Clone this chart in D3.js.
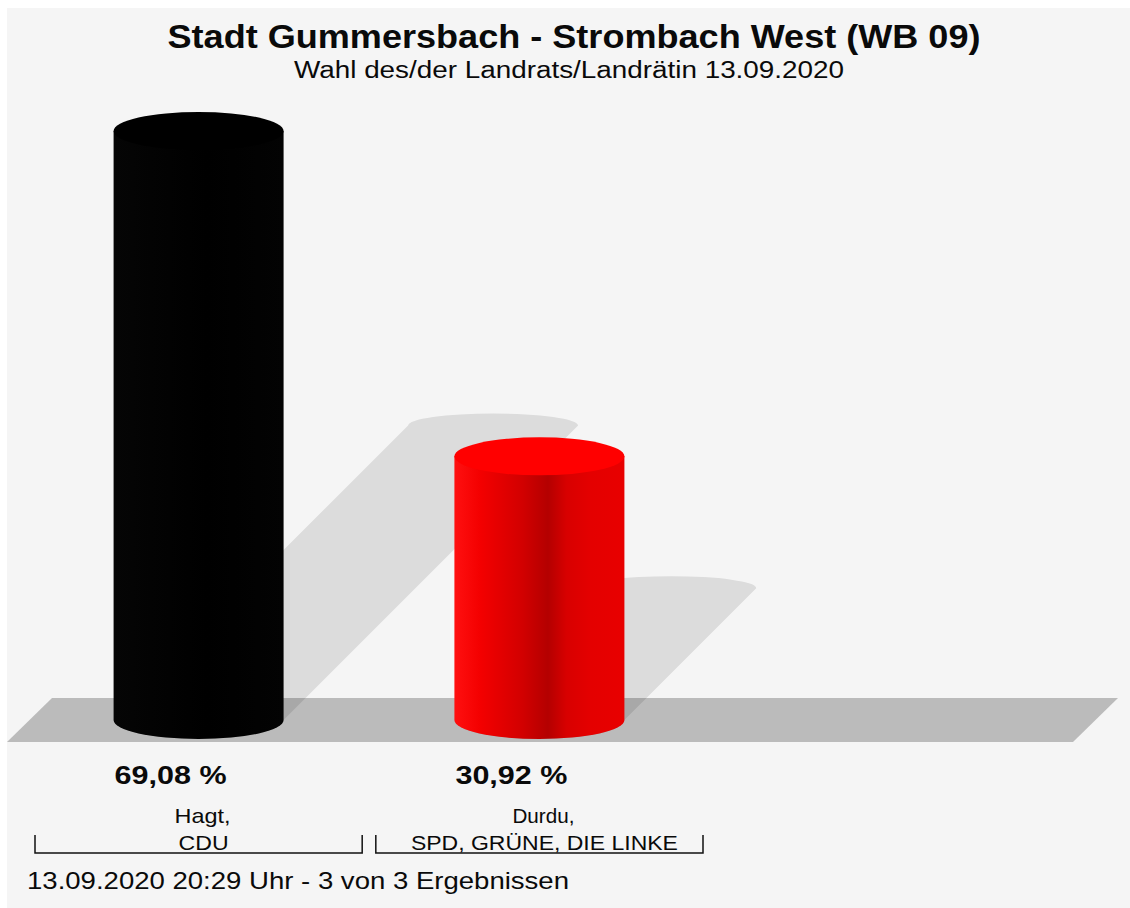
<!DOCTYPE html>
<html>
<head>
<meta charset="utf-8">
<script src="https://cdnjs.cloudflare.com/ajax/libs/d3/7.8.5/d3.min.js"></script>
<style>
  body { margin: 0; background: #ffffff; }
  text { font-family: "Liberation Sans", Arial, Helvetica, sans-serif; fill: #0a0a0a; }
</style>
</head>
<body>
<div id="chart"></div>
<script>
// values
var names   = ["Hagt,", "Durdu,"]
var parties = ["CDU", "SPD, GRÜNE, DIE LINKE"]
var shares  = [69.08, 30.92]
var colors  = ["black", "red"]

var title    = "Stadt Gummersbach - Strombach West (WB 09)"
var subtitle = "Wahl des/der Landrats/Landrätin 13.09.2020"
var footer   = "13.09.2020 20:29 Uhr - 3 von 3 Ergebnissen"

var width = 1130, height = 908
var baseY = 720, topY = 131
var rx = 85, ry = 19

var data = shares.map(function(v, i) {
  return { name: names[i], party: parties[i], value: v, color: colors[i] }
})

var de = d3.formatLocale({ decimal: ",", thousands: ".", grouping: [3], currency: ["", " €"] })
var fmt = de.format(".2f")

var svg = d3.select("#chart")
  .append("svg")
    .attr("width", width)
    .attr("height", height)

var defs = svg.append("defs")

var gradRed = defs.append("linearGradient").attr("id", "side-red")
  .attr("x1", "0%").attr("x2", "100%").attr("y1", "0%").attr("y2", "0%")
gradRed.selectAll("stop")
  .data([[0, "#ff1010"], [0.15, "#f40000"], [0.4, "#d20000"], [0.55, "#b40000"], [0.66, "#d80000"], [0.8, "#e40000"], [1, "#e80000"]])
  .enter().append("stop")
    .attr("offset", function(d) { return d[0] })
    .attr("stop-color", function(d) { return d[1] })

var gradBlack = defs.append("linearGradient").attr("id", "side-black")
  .attr("x1", "0%").attr("x2", "100%").attr("y1", "0%").attr("y2", "0%")
gradBlack.selectAll("stop")
  .data([[0, "#050505"], [0.55, "#000000"], [1, "#030303"]])
  .enter().append("stop")
    .attr("offset", function(d) { return d[0] })
    .attr("stop-color", function(d) { return d[1] })

// background panel
svg.append("rect")
  .attr("x", 7).attr("y", 8)
  .attr("width", width - 7).attr("height", height - 8)
  .style("fill", "#f5f5f5")

var x = d3.scaleBand()
  .domain(names)
  .range([35, 703])
  .paddingInner(0.04)
  .paddingOuter(0)

var y = d3.scaleLinear()
  .domain([0, d3.max(shares)])
  .range([baseY, topY])

function cx(d) { return x(d.name) + x.bandwidth() / 2 }

// floor
svg.append("path")
  .attr("d", "M7," + 742 + " L1073,742 L1118,698 L52,698 Z")
  .style("fill", "#bbbbbb")

// shadows, sheared up to the right
svg.append("g").selectAll("path")
  .data(data)
  .enter().append("path")
    .attr("d", function(d) {
      var c = cx(d), s = (baseY - y(d.value)) / 2
      return "M" + (c - rx) + "," + baseY +
        " L" + (c - rx + s) + "," + (baseY - s) +
        " A" + rx + "," + 12 + " 0 0 1 " + (c + rx + s) + "," + (baseY - s) +
        " L" + (c + rx) + "," + baseY +
        " A" + rx + "," + ry + " 0 0 1 " + (c - rx) + "," + baseY + " Z"
    })
    .style("fill", "rgba(0,0,0,0.1)")

// cylinders
var bars = svg.append("g").selectAll("g")
  .data(data)
  .enter().append("g")

bars.append("path")
  .attr("d", function(d) {
    var c = cx(d), t = y(d.value)
    return "M" + (c - rx) + "," + t +
      " L" + (c - rx) + "," + baseY +
      " A" + rx + "," + ry + " 0 0 0 " + (c + rx) + "," + baseY +
      " L" + (c + rx) + "," + t + " Z"
  })
  .style("fill", function(d) { return d.color == "red" ? "url(#side-red)" : "url(#side-black)" })

bars.append("ellipse")
  .attr("cx", cx)
  .attr("cy", function(d) { return y(d.value) })
  .attr("rx", rx)
  .attr("ry", ry)
  .style("fill", function(d) { return d.color == "red" ? "#ff0000" : "#000000" })

// percent labels
bars.append("text")
  .attr("x", function(d) { return cx(d) - 28 })
  .attr("y", 784)
  .attr("text-anchor", "middle")
  .attr("font-size", 25)
  .attr("font-weight", "bold")
  .attr("textLength", 112)
  .attr("lengthAdjust", "spacingAndGlyphs")
  .text(function(d) { return fmt(d.value) + " %" })

// category labels
bars.append("text")
  .attr("x", function(d) { return cx(d) + 4 })
  .attr("y", 823)
  .attr("text-anchor", "middle")
  .attr("font-size", 21)
  .attr("textLength", function(d, i) { return [56, 62][i] })
  .attr("lengthAdjust", "spacingAndGlyphs")
  .text(function(d) { return d.name })

bars.append("text")
  .attr("x", function(d) { return cx(d) + 5 })
  .attr("y", 850)
  .attr("text-anchor", "middle")
  .attr("font-size", 21)
  .attr("textLength", function(d, i) { return [50, 267][i] })
  .attr("lengthAdjust", "spacingAndGlyphs")
  .text(function(d) { return d.party })

// brackets under each category
bars.append("path")
  .attr("d", function(d) {
    var x0 = x(d.name), x1 = x0 + x.bandwidth()
    return "M" + x0 + ",835 L" + x0 + ",853 L" + x1 + ",853 L" + x1 + ",835"
  })
  .style("fill", "none")
  .style("stroke", "#111")
  .style("stroke-width", 1.5)

// titles
svg.append("text")
  .attr("x", 574).attr("y", 48)
  .attr("text-anchor", "middle")
  .attr("font-size", 33)
  .attr("font-weight", "bold")
  .attr("textLength", 813)
  .attr("lengthAdjust", "spacingAndGlyphs")
  .text(title)

svg.append("text")
  .attr("x", 569).attr("y", 78)
  .attr("text-anchor", "middle")
  .attr("font-size", 23)
  .attr("textLength", 550)
  .attr("lengthAdjust", "spacingAndGlyphs")
  .text(subtitle)

svg.append("text")
  .attr("x", 27).attr("y", 889)
  .attr("font-size", 24)
  .attr("textLength", 542)
  .attr("lengthAdjust", "spacingAndGlyphs")
  .text(footer)
</script>
</body>
</html>
